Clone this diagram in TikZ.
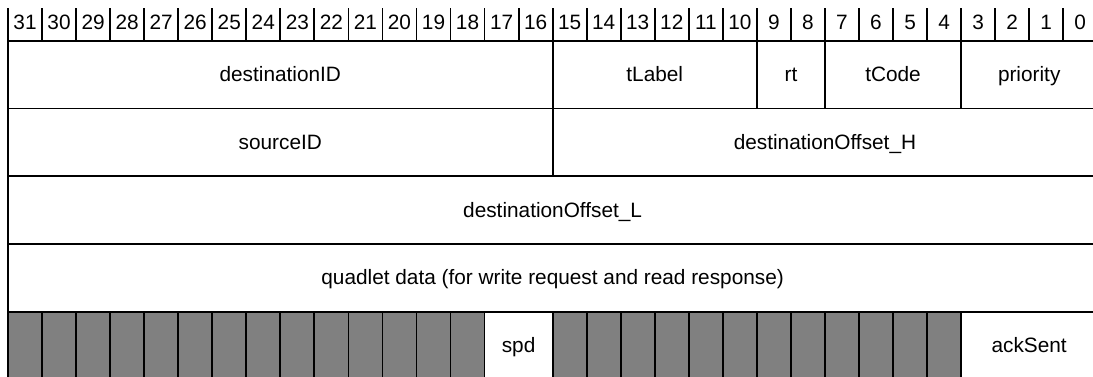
\documentclass[tikz,border=0pt]{standalone}
\usepackage{fontspec}
\setmainfont{Liberation Sans}
\definecolor{padgray}{HTML}{808080}
\tikzset{
  cell/.style={draw=black, line width=1.35pt, inner sep=0pt, outer sep=0pt,
    font=\fontsize{15.6pt}{18pt}\selectfont, text height=10.4pt, text depth=0pt, anchor=center},
  pad/.style={cell, fill=padgray},
  bitnum/.style={font=\fontsize{15.6pt}{18pt}\selectfont, inner sep=0pt, anchor=base},
  gridline/.style={line width=1.35pt, draw=black}
}
% field: [style] name, col0, col1, ytop, ybot, text
\newcommand\fld[7][cell]{%
  \node[#1, minimum width={(#4-(#3))*25.53pt}, minimum height={(#6-(#5))*0.75pt}] (#2)
    at ({8+34.04*((#3)+(#4))/2},{((#5)+(#6))/2}) {#7};}
\begin{document}
\begin{tikzpicture}[x=0.75pt, y=-0.75pt]
\useasboundingbox (0,0) rectangle (1093,376);
\clip (0,0) rectangle (1093,376);
% header
\foreach \k in {0,...,31} {
  \pgfmathtruncatemacro\b{31-\k}
  \node[bitnum] (h\k) at ({8+34.04*(\k+0.5)},29) {\b};
}
\foreach \k in {0,...,32} {
  \draw[gridline] ({8+34.04*\k},8) -- ({8+34.04*\k},40.7);
}
% row 1
\fld{destid}{0}{16}{40.7}{108.45}{destinationID}
\fld{tlabel}{16}{22}{40.7}{108.45}{tLabel}
\fld{rt}{22}{24}{40.7}{108.45}{rt}
\fld{tcode}{24}{28}{40.7}{108.45}{tCode}
\fld{prio}{28}{32}{40.7}{108.45}{priority}
% row 2
\fld{srcid}{0}{16}{108.45}{176.2}{sourceID}
\fld{offh}{16}{32}{108.45}{176.2}{destinationOffset\_H}
% row 3
\fld{offl}{0}{32}{176.2}{243.95}{destinationOffset\_L}
% row 4
\fld{data}{0}{32}{243.95}{311.7}{quadlet data (for write request and read response)}
% row 5
\foreach \c in {0,...,13} {\fld[pad]{ga\c}{\c}{\c+1}{311.7}{379.45}{}}
\fld{spd}{14}{16}{311.7}{379.45}{spd}
\foreach \c in {16,...,27} {\fld[pad]{gb\c}{\c}{\c+1}{311.7}{379.45}{}}
\fld{ack}{28}{32}{311.7}{379.45}{ackSent}
\end{tikzpicture}
\end{document}
